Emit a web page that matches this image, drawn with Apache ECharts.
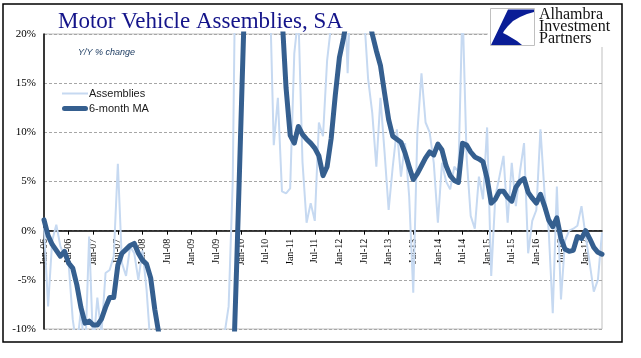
<!DOCTYPE html>
<html><head><meta charset="utf-8">
<script src="https://cdn.jsdelivr.net/npm/echarts@6/dist/echarts.min.js"></script>
<style>html,body{margin:0;padding:0;background:#fff;}#c{width:641px;height:358px;}</style>
</head><body><div id="c"></div>
<script>
// ---- data ----
const monthNames = ['Jan','Feb','Mar','Apr','May','Jun','Jul','Aug','Sep','Oct','Nov','Dec'];
const firstYear = 2006, lastYear = 2017, lastMonthIndex = 4; // Jan-06 .. May-17
const categories = [];
for (let y = firstYear; y <= lastYear; y++) {
  for (let m = 0; m < 12; m++) {
    if (y === lastYear && m > lastMonthIndex) break;
    categories.push(monthNames[m] + '-' + String(y).slice(2));
  }
}
const seriesNames = ['Assemblies', '6-month MA'];
const assemblies = [
  0.3,-7.7,-1.0,0.6,-1.6,-2.6,-3.3,-9.0,-12,-8.0,-13,-0.6,
  -12,-6.8,-10.5,-4.3,-4.0,-2.6,6.8,-3.3,-4.6,-1.6,-2.3,-5.0,
  -2.0,-6.0,-12,-15,-20,-22,-25,-27,-30,-35,-45,-52,
  -55,-52,-48,-47,-45,-38,-30,-20,-10.5,-7.7,5,40,
  55,65,60,55,50,40,30,25,8.7,13.5,4.0,3.8,
  4.3,18,22,7,0.8,2.8,1.0,11,9.6,17.3,21,25,
  30,28,16,28,30,25,22,15.4,12,6.5,13.5,8,
  2.1,6.5,10.3,5.5,8.9,3.5,-6.3,10,16,11,10,6.9,
  0.8,6.9,5.0,4.2,6.5,6,23,7.5,1.5,0.2,5.5,3.2,
  10.5,-4.6,3.5,5.5,7.6,0.8,6.9,2.5,6.0,8.9,-2.3,1.0,
  2.1,10.3,3.8,0.1,-8.4,4.5,-7.0,-1.0,0.0,0.2,0.5,2.5,
  -0.5,-3.3,-6.2,-5.0,-0.2
];
const movingAvg = [
  1.1,-0.5,-1.4,-2.0,-2.6,-2.1,-3.3,-3.8,-5.5,-7.8,-9.4,-9.2,
  -9.6,-9.6,-9.0,-7.8,-6.8,-6.8,-3.5,-2.3,-1.9,-1.5,-1.3,-2.3,
  -3.0,-3.4,-4.8,-8.0,-10.5,-14,-17,-19,-21,-24,-28,-33,
  -39,-44,-47,-49,-50,-48,-43,-36,-28,-22,-16,-3,
  11,25,36,46,54,58,57,50,41,31,22,14.5,
  9.7,8.9,10.6,9.8,9.3,8.9,8.4,7.6,5.6,6.5,9.4,13.8,
  17.6,19.6,22,24,25,25,24,22,20.0,18.3,16.8,14.0,
  11.3,9.6,9.3,9.0,7.9,6.5,5.2,5.8,6.6,7.4,8.0,7.7,
  8.8,8.2,6.6,5.6,5.1,4.9,8.9,8.7,8.0,7.5,7.3,7.0,
  5.3,2.8,3.2,4.0,4.0,3.4,3.0,4.4,5.0,5.3,3.9,3.3,
  2.8,3.7,2.5,1.1,0.4,1.3,-0.8,-1.9,-2.1,-2.0,-0.6,-0.8,
  0.0,-0.8,-1.7,-2.2,-2.4
];
const yMin = -10, yMax = 20, yStep = 5;
const labelEvery = 6;

// ---- layout ----
const gridTop = 34, gridHeight = 295;
// place the category axis on the 0% line (offset from the bottom edge)
const zeroOffset = -gridHeight * (0 - yMin) / (yMax - yMin);

const serif = 'Liberation Serif';
const colLight = '#c6d9f1', colDark = '#355f8f';
const chart = echarts.init(document.getElementById('c'), null, {renderer: 'canvas'});
chart.setOption({
  animation: false,
  backgroundColor: '#fff',
  grid: {left: 44, top: gridTop, width: 558, height: gridHeight, show: true, borderColor: '#bfbfbf', borderWidth: 1},
  legend: {
    orient: 'vertical', left: 62, top: 88, padding: 0,
    itemWidth: 26, itemHeight: 14, itemGap: 4,
    data: [
      {name: seriesNames[0], icon: 'path://M0,0 H26 V2 H0 Z'},
      {name: seriesNames[1], icon: 'path://M2.5,0 H23.5 A2.5,2.5 0 0 1 23.5,5 H2.5 A2.5,2.5 0 0 1 2.5,0 Z'}
    ],
    textStyle: {fontFamily: 'Liberation Sans', fontSize: 11, color: '#1a1a1a', padding: [0, 0, 0, -4]}
  },
  xAxis: {
    type: 'category', data: categories, boundaryGap: false,
    position: 'bottom', offset: zeroOffset,
    axisLine: {onZero: false, lineStyle: {color: '#000', width: 1.5}},
    axisTick: {interval: labelEvery - 1, length: 4, lineStyle: {color: '#000'}},
    axisLabel: {interval: labelEvery - 1, rotate: 90, margin: 8, fontFamily: serif, fontSize: 10, color: '#000'},
    splitLine: {show: false}
  },
  yAxis: {
    type: 'value', min: yMin, max: yMax, interval: yStep,
    axisLine: {show: true, onZero: false, lineStyle: {color: '#000', width: 1.5}},
    axisTick: {show: false},
    axisLabel: {formatter: '{value}%', fontFamily: serif, fontSize: 11, color: '#000', margin: 8},
    splitLine: {lineStyle: {color: '#a6a6a6', type: [3, 2], width: 1}}
  },
  series: [
    {name: seriesNames[0], type: 'line', data: assemblies, symbol: 'none', z: 2,
     lineStyle: {color: colLight, width: 2}, itemStyle: {color: colLight}},
    {name: seriesNames[1], type: 'line', data: movingAvg, symbol: 'none', z: 3,
     lineStyle: {color: colDark, width: 5, cap: 'round', join: 'round'}, itemStyle: {color: colDark}}
  ],
  graphic: [
    {type: 'rect', z: 50, shape: {x: 3, y: 4, width: 619, height: 338}, style: {fill: null, stroke: '#000', lineWidth: 1.5}},
    {type: 'text', z: 50, x: 58, y: 22, style: {text: 'Motor Vehicle Assemblies, SA', font: '23px "Liberation Serif"', fill: '#14148a', verticalAlign: 'middle'}},
    {type: 'text', z: 50, x: 78, y: 52, style: {text: 'Y/Y % change', font: 'italic 9px "Liberation Sans"', fill: '#17375e', verticalAlign: 'middle'}},
    {type: 'rect', z: 40, shape: {x: 488, y: 5, width: 133, height: 42}, style: {fill: '#fff', stroke: null}},
    {type: 'rect', z: 41, shape: {x: 490.5, y: 8.5, width: 44, height: 37}, style: {fill: '#fff', stroke: '#c0c0c0', lineWidth: 1}},
    {type: 'polygon', z: 42, shape: {points: [[508,9.5],[534,9.5],[534,12],[527,14],[520,17],[513,21],[508,26],[504,31],[503,33],[507,35],[512,38],[517,41],[522,45],[491,45]]}, style: {fill: '#0a1d96'}},
    {type: 'text', z: 42, x: 539, y: 15, style: {text: 'Alhambra', font: '16px "Liberation Serif"', fill: '#111', verticalAlign: 'middle'}},
    {type: 'text', z: 42, x: 539, y: 27, style: {text: 'Investment', font: '16px "Liberation Serif"', fill: '#111', verticalAlign: 'middle'}},
    {type: 'text', z: 42, x: 539, y: 39, style: {text: 'Partners', font: '16px "Liberation Serif"', fill: '#111', verticalAlign: 'middle'}}
  ]
});
</script></body></html>
